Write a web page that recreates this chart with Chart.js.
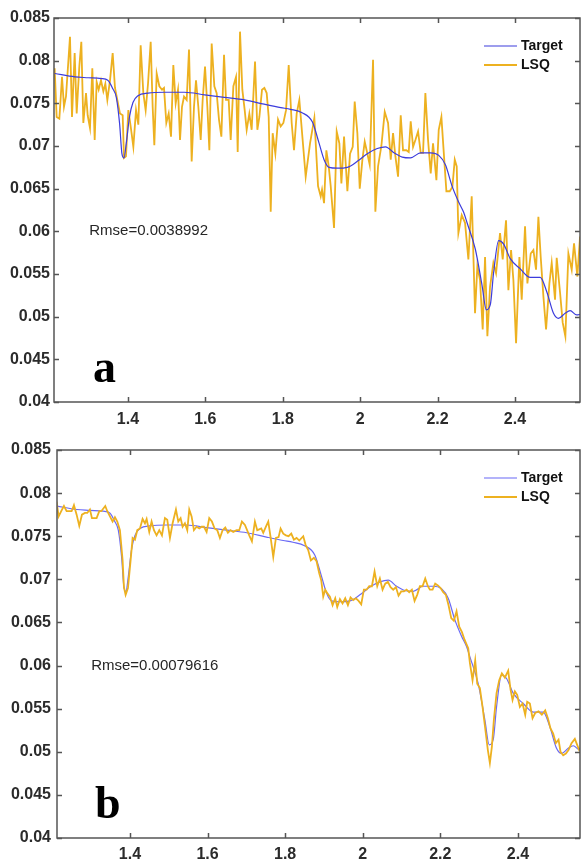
<!DOCTYPE html>
<html>
<head>
<meta charset="utf-8">
<script src="https://cdn.jsdelivr.net/npm/chart.js@4.4.1/dist/chart.umd.min.js"></script>
<style>
  body { margin: 0; background: #fff; width: 584px; height: 861px; overflow: hidden; position: relative; }
  canvas { position: absolute; left: 0; }
</style>
</head>
<body>
<canvas id="chartA" width="584" height="430" style="top:0"></canvas>
<canvas id="chartB" width="584" height="431" style="top:430px"></canvas>
<script>
// tick labels
var xTicks = [1.4, 1.6, 1.8, 2, 2.2, 2.4];
var yTicks = [0.04, 0.045, 0.05, 0.055, 0.06, 0.065, 0.07, 0.075, 0.08, 0.085];
var seriesNames = ['Target', 'LSQ'];
var rmseA = 'Rmse=0.0038992';
var rmseB = 'Rmse=0.00079616';

// target spectrum (same in both panels)
var targetX = [1.211, 1.263, 1.297, 1.331, 1.348, 1.361, 1.370, 1.3785, 1.3845, 1.3897, 1.3957, 1.404, 1.413, 1.426, 1.452, 1.495,
  1.546, 1.598, 1.649, 1.701, 1.752, 1.795, 1.82, 1.85, 1.8767, 1.894, 1.9068, 1.9197, 1.9412, 1.9669, 1.9927, 2.0185, 2.0442,
  2.0657, 2.0872, 2.1087, 2.1301, 2.1559, 2.1817, 2.2031, 2.2203, 2.2375, 2.2547, 2.2676, 2.2762, 2.2976, 2.3148, 2.326, 2.3363,
  2.3449, 2.3578, 2.3707, 2.3878, 2.4136, 2.4394, 2.4652, 2.4823, 2.4995, 2.5124, 2.5296, 2.5425, 2.5596, 2.570];
var targetY = [0.0785, 0.0781, 0.0780, 0.0779, 0.0777, 0.0767, 0.0757, 0.0726, 0.0691, 0.0686, 0.0703, 0.0734, 0.0751, 0.0759, 0.0762, 0.0763,
  0.0763, 0.0760, 0.0757, 0.0754, 0.0749, 0.0745, 0.0743, 0.0739, 0.0728, 0.0703, 0.0684, 0.0675, 0.0674, 0.0675, 0.0682, 0.0691, 0.0697,
  0.0699, 0.0692, 0.0687, 0.0686, 0.0692, 0.0692, 0.0689, 0.0678, 0.0653, 0.0634, 0.0622, 0.0610, 0.0579, 0.0537, 0.0508, 0.0514,
  0.0552, 0.0589, 0.0585, 0.0568, 0.0556, 0.0546, 0.0546, 0.0529, 0.0504, 0.0498, 0.0504, 0.0507, 0.0502, 0.0503];

// panel a: LSQ estimate
var lsqAX = [1.2107, 1.2159, 1.2228, 1.2297, 1.2348, 1.2400, 1.2503, 1.2555, 1.2624, 1.2676, 1.2744, 1.2796, 1.2848, 1.2917, 1.2960,
  1.3020, 1.3080, 1.3141, 1.3192, 1.3244, 1.3304, 1.3365, 1.3416, 1.3468, 1.3537, 1.3606, 1.3666, 1.3726, 1.3795, 1.3864, 1.3899,
  1.3950, 1.4011, 1.4071, 1.4140, 1.4209, 1.4269, 1.4329, 1.4398, 1.4458, 1.4519, 1.4588, 1.4639, 1.4682, 1.4743, 1.4812, 1.4881,
  1.4932, 1.4992, 1.5053, 1.5113, 1.5173, 1.5234, 1.5294, 1.5346, 1.5397, 1.5449, 1.5518, 1.5578, 1.5647, 1.5707, 1.5759, 1.5819,
  1.5880, 1.5931, 1.5992, 1.6052, 1.6104, 1.6164, 1.6233, 1.6293, 1.6353, 1.6414, 1.6483, 1.6534, 1.6603, 1.6655, 1.6724, 1.6793,
  1.6836, 1.6896, 1.6956, 1.7017, 1.7068, 1.7137, 1.7197, 1.7284, 1.7344, 1.7396, 1.7464, 1.7525, 1.7585, 1.7637, 1.7689, 1.7740,
  1.7809, 1.7878, 1.7947, 1.8016, 1.8085, 1.8154, 1.8231, 1.8291, 1.8360, 1.8429, 1.8593, 1.8705, 1.8817, 1.8912, 1.8981, 1.9015,
  1.9067, 1.9127, 1.9188, 1.9239, 1.9325, 1.9394, 1.9463, 1.9515, 1.9584, 1.9670, 1.9739, 1.9808, 1.9859, 1.9928, 1.9989, 2.0058,
  2.0118, 2.0187, 2.0247, 2.0333, 2.0393, 2.0462, 2.0548, 2.0635, 2.0721, 2.0790, 2.0850, 2.0910, 2.0979, 2.1048, 2.1108, 2.1194,
  2.1255, 2.1306, 2.1367, 2.1427, 2.1496, 2.1565, 2.1625, 2.1685, 2.1754, 2.1823, 2.1883, 2.1970, 2.2030, 2.2099, 2.2168, 2.2228,
  2.2314, 2.2383, 2.2444, 2.2495, 2.2538, 2.2624, 2.2710, 2.2796, 2.2882, 2.2968, 2.3028, 2.3097, 2.3166, 2.3227, 2.3287, 2.3356,
  2.3442, 2.3511, 2.3614, 2.3683, 2.3769, 2.3830, 2.3899, 2.3959, 2.4028, 2.4114, 2.4174, 2.4260, 2.4321, 2.4407, 2.4476, 2.4544,
  2.4605, 2.4665, 2.4734, 2.4803, 2.4889, 2.4949, 2.5035, 2.5078, 2.5165, 2.5233, 2.5302, 2.5380, 2.5466, 2.5526, 2.5612, 2.5681];
var lsqAY = [0.0791, 0.0734, 0.0732, 0.0781, 0.0746, 0.0758, 0.0828, 0.0734, 0.0809, 0.0738, 0.0793, 0.0822, 0.0727, 0.0762, 0.0736,
  0.0721, 0.0791, 0.0707, 0.0775, 0.0766, 0.0777, 0.0764, 0.0773, 0.0754, 0.0777, 0.0809, 0.0768, 0.0754, 0.0738, 0.0736, 0.0686,
  0.0688, 0.0742, 0.0723, 0.0699, 0.0742, 0.0725, 0.0818, 0.0762, 0.0742, 0.0773, 0.0822, 0.0746, 0.0701, 0.0785, 0.0770, 0.0766,
  0.0768, 0.0727, 0.0738, 0.0711, 0.0795, 0.0750, 0.0766, 0.0707, 0.0746, 0.0758, 0.0754, 0.0813, 0.0682, 0.0746, 0.0777, 0.0746,
  0.0707, 0.0754, 0.0793, 0.0746, 0.0695, 0.0820, 0.0770, 0.0762, 0.0731, 0.0711, 0.0807, 0.0754, 0.0754, 0.0707, 0.0770, 0.0781,
  0.0693, 0.0834, 0.0766, 0.0742, 0.0719, 0.0738, 0.0719, 0.0799, 0.0719, 0.0734, 0.0766, 0.0768, 0.0762, 0.0734, 0.0623, 0.0715,
  0.0691, 0.0731, 0.0723, 0.0727, 0.0742, 0.0795, 0.0727, 0.0695, 0.0738, 0.0754, 0.0664, 0.0703, 0.0733, 0.0653, 0.0641, 0.0649,
  0.0633, 0.0695, 0.0676, 0.0653, 0.0604, 0.0717, 0.0703, 0.0656, 0.0711, 0.0647, 0.0691, 0.0699, 0.0752, 0.0715, 0.0650, 0.0684,
  0.0705, 0.0691, 0.0678, 0.0801, 0.0623, 0.0676, 0.0700, 0.0740, 0.0727, 0.0684, 0.0715, 0.0688, 0.0664, 0.0736, 0.0695, 0.0695,
  0.0693, 0.0729, 0.0699, 0.0707, 0.0717, 0.0692, 0.0692, 0.0762, 0.0707, 0.0668, 0.0703, 0.0660, 0.0719, 0.0734, 0.0687, 0.0647,
  0.0647, 0.0652, 0.0684, 0.0676, 0.0598, 0.0619, 0.0610, 0.0567, 0.0641, 0.0504, 0.0559, 0.0543, 0.0485, 0.0570, 0.0477, 0.0535,
  0.0563, 0.0551, 0.0598, 0.0567, 0.0613, 0.0531, 0.0578, 0.0543, 0.0469, 0.0570, 0.0520, 0.0606, 0.0539, 0.0574, 0.0578, 0.0555,
  0.0617, 0.0570, 0.0524, 0.0485, 0.0539, 0.0563, 0.0520, 0.0569, 0.0528, 0.0493, 0.0477, 0.0574, 0.0555, 0.0586, 0.0547, 0.0594];

// panel b: LSQ estimate
var lsqBX = [1.2110, 1.2162, 1.2239, 1.2299, 1.2368, 1.2497, 1.2557, 1.2626, 1.2694, 1.2763, 1.2840, 1.2900, 1.2969, 1.3021, 1.3141,
  1.3210, 1.3261, 1.3364, 1.3416, 1.3485, 1.3553, 1.3613, 1.3674, 1.3742, 1.3811, 1.3845, 1.3888, 1.3949, 1.4017, 1.4069, 1.4129,
  1.4189, 1.4258, 1.4326, 1.4387, 1.4430, 1.4498, 1.4558, 1.4619, 1.4687, 1.4756, 1.4825, 1.4902, 1.4962, 1.5031, 1.5100, 1.5186,
  1.5246, 1.5306, 1.5357, 1.5417, 1.5478, 1.5529, 1.5589, 1.5649, 1.5718, 1.5787, 1.5847, 1.5907, 1.5976, 1.6044, 1.6113, 1.6182,
  1.6251, 1.6319, 1.6388, 1.6457, 1.6525, 1.6594, 1.6663, 1.6749, 1.6818, 1.6886, 1.6964, 1.7075, 1.7144, 1.7221, 1.7281, 1.7333,
  1.7384, 1.7436, 1.7505, 1.7565, 1.7625, 1.7694, 1.7763, 1.7831, 1.7883, 1.7952, 1.8020, 1.8089, 1.8158, 1.8226, 1.8295, 1.8364,
  1.8467, 1.8527, 1.8595, 1.8664, 1.8741, 1.8810, 1.8879, 1.8930, 1.8982, 1.9034, 1.9085, 1.9154, 1.9223, 1.9291, 1.9343, 1.9412,
  1.9480, 1.9549, 1.9618, 1.9686, 1.9755, 1.9824, 1.9893, 1.9961, 2.0030, 2.0099, 2.0167, 2.0236, 2.0305, 2.0374, 2.0442, 2.0511,
  2.0580, 2.0648, 2.0717, 2.0786, 2.0855, 2.0923, 2.0992, 2.1061, 2.1130, 2.1198, 2.1267, 2.1336, 2.1404, 2.1473, 2.1542, 2.1611,
  2.1679, 2.1731, 2.1800, 2.1868, 2.1937, 2.2006, 2.2074, 2.2143, 2.2212, 2.2281, 2.2349, 2.2418, 2.2487, 2.2555, 2.2624, 2.2719,
  2.2762, 2.2830, 2.2899, 2.2951, 2.3019, 2.3088, 2.3157, 2.3225, 2.3277, 2.3329, 2.3380, 2.3449, 2.3518, 2.3586, 2.3664, 2.3749,
  2.3810, 2.3861, 2.3921, 2.3981, 2.4050, 2.4119, 2.4188, 2.4239, 2.4308, 2.4377, 2.4445, 2.4531, 2.4617, 2.4703, 2.4772, 2.4840,
  2.4909, 2.4978, 2.5047, 2.5098, 2.5167, 2.5236, 2.5304, 2.5382, 2.5467, 2.5527, 2.5579, 2.5639, 2.5699];
var lsqBY = [0.0790, 0.0773, 0.0780, 0.0785, 0.0779, 0.0779, 0.0786, 0.0775, 0.0762, 0.0775, 0.0777, 0.0777, 0.0781, 0.0771, 0.0771,
  0.0779, 0.0779, 0.0785, 0.0779, 0.0773, 0.0767, 0.0772, 0.0767, 0.0757, 0.0722, 0.0691, 0.0682, 0.0690, 0.0722, 0.0748, 0.0746,
  0.0757, 0.0759, 0.0770, 0.0765, 0.0770, 0.0755, 0.0767, 0.0757, 0.0751, 0.0757, 0.0751, 0.0771, 0.0769, 0.0748, 0.0765, 0.0781,
  0.0767, 0.0771, 0.0761, 0.0765, 0.0757, 0.0781, 0.0773, 0.0757, 0.0761, 0.0759, 0.0761, 0.0761, 0.0755, 0.0771, 0.0767, 0.0759,
  0.0757, 0.0748, 0.0757, 0.0760, 0.0754, 0.0757, 0.0755, 0.0757, 0.0757, 0.0767, 0.0763, 0.0751, 0.0744, 0.0767, 0.0757, 0.0758,
  0.0759, 0.0754, 0.0761, 0.0767, 0.0749, 0.0726, 0.0748, 0.0749, 0.0759, 0.0753, 0.0751, 0.0750, 0.0753, 0.0746, 0.0748, 0.0745,
  0.0750, 0.0740, 0.0734, 0.0722, 0.0725, 0.0721, 0.0707, 0.0699, 0.0680, 0.0688, 0.0684, 0.0680, 0.0670, 0.0678, 0.0668, 0.0677,
  0.0672, 0.0678, 0.0670, 0.0679, 0.0676, 0.0678, 0.0675, 0.0671, 0.0688, 0.0688, 0.0692, 0.0692, 0.0709, 0.0692, 0.0701, 0.0688,
  0.0695, 0.0697, 0.0691, 0.0688, 0.0691, 0.0681, 0.0686, 0.0686, 0.0688, 0.0685, 0.0688, 0.0675, 0.0682, 0.0692, 0.0692, 0.0701,
  0.0692, 0.0688, 0.0688, 0.0695, 0.0693, 0.0690, 0.0685, 0.0682, 0.0670, 0.0655, 0.0652, 0.0663, 0.0645, 0.0639, 0.0630, 0.0620,
  0.0603, 0.0583, 0.0606, 0.0579, 0.0574, 0.0552, 0.0527, 0.0502, 0.0487, 0.0506, 0.0537, 0.0568, 0.0583, 0.0591, 0.0586, 0.0594,
  0.0572, 0.0560, 0.0570, 0.0566, 0.0552, 0.0556, 0.0543, 0.0558, 0.0556, 0.0539, 0.0545, 0.0547, 0.0543, 0.0548, 0.0539, 0.0527,
  0.0521, 0.0510, 0.0514, 0.0500, 0.0496, 0.0498, 0.0502, 0.0510, 0.0515, 0.0508, 0.0502, 0.0506, 0.0508];

function toPoints(xs, ys) {
    return xs.map(function (x, i) { return { x: x, y: ys[i] }; });
}

// draws the box, inward ticks, legend and the text labels
var framePlugin = {
    id: 'frame',
    afterDatasetsDraw: function (chart, args, opts) {
        var ctx = chart.ctx;
        var area = chart.chartArea;
        var xs = chart.scales.x, ys = chart.scales.y;
        ctx.save();
        ctx.strokeStyle = '#555';
        ctx.lineWidth = 1.5;
        ctx.strokeRect(area.left, area.top, area.right - area.left, area.bottom - area.top);
        ctx.beginPath();
        xTicks.forEach(function (v) {
            var px = Math.round(xs.getPixelForValue(v)) + 0.5;
            ctx.moveTo(px, area.bottom); ctx.lineTo(px, area.bottom - 5);
            ctx.moveTo(px, area.top); ctx.lineTo(px, area.top + 5);
        });
        yTicks.forEach(function (v) {
            var py = Math.round(ys.getPixelForValue(v)) + 0.5;
            ctx.moveTo(area.left, py); ctx.lineTo(area.left + 5, py);
            ctx.moveTo(area.right, py); ctx.lineTo(area.right - 5, py);
        });
        ctx.stroke();

        // rmse text
        ctx.fillStyle = '#262626';
        ctx.font = '15px "Liberation Sans", Arial, sans-serif';
        ctx.textBaseline = 'middle';
        ctx.textAlign = 'left';
        ctx.fillText(opts.rmse, xs.getPixelForValue(1.3), ys.getPixelForValue(0.06));

        // panel letter
        ctx.fillStyle = '#000';
        ctx.font = 'bold 46px "Liberation Serif", "Times New Roman", serif';
        ctx.textBaseline = 'alphabetic';
        ctx.fillText(opts.letter, xs.getPixelForValue(1.31), ys.getPixelForValue(0.0423));

        // legend
        ctx.font = 'bold 14px "Liberation Sans", Arial, sans-serif';
        ctx.textBaseline = 'middle';
        chart.data.datasets.forEach(function (ds, i) {
            var y = area.top + 28 + i * 19;
            ctx.strokeStyle = ds.borderColor;
            ctx.lineWidth = ds.borderWidth;
            ctx.beginPath();
            ctx.moveTo(area.right - 96, y);
            ctx.lineTo(area.right - 63, y);
            ctx.stroke();
            ctx.fillStyle = '#111';
            ctx.fillText(ds.label, area.right - 59, y);
        });
        ctx.restore();
    }
};

function makePanel(id, cfg) {
    var tickFont = { family: '"Liberation Sans", Arial, sans-serif', size: 16, weight: 'bold' };
    return new Chart(document.getElementById(id), {
        type: 'scatter',
        data: {
            datasets: [{
                label: seriesNames[0],
                data: toPoints(targetX, targetY),
                showLine: true,
                borderColor: cfg.targetColor,
                borderWidth: 1.2,
                pointRadius: 0,
                cubicInterpolationMode: 'monotone',
                order: cfg.targetOrder
            }, {
                label: seriesNames[1],
                data: toPoints(cfg.lsqX, cfg.lsqY),
                showLine: true,
                borderColor: '#EDB120',
                borderWidth: 1.8,
                pointRadius: 0,
                tension: 0,
                order: 3 - cfg.targetOrder
            }]
        },
        options: {
            responsive: false,
            animation: false,
            devicePixelRatio: 1,
            layout: { padding: { left: 0, top: cfg.top, right: 4, bottom: 0 } },
            plugins: {
                legend: { display: false },
                tooltip: { enabled: false },
                frame: { rmse: cfg.rmse, letter: cfg.letter }
            },
            scales: {
                x: {
                    type: 'linear',
                    min: cfg.xMin,
                    max: cfg.xMax,
                    grid: { display: false, drawTicks: false },
                    border: { display: false },
                    afterBuildTicks: function (s) { s.ticks = xTicks.map(function (v) { return { value: v }; }); },
                    afterFit: function (s) { s.height = cfg.xAxisHeight; },
                    ticks: {
                        font: tickFont, color: '#2b2b2b', padding: cfg.xPad,
                        maxRotation: 0, autoSkip: false,
                        callback: function (v) { return String(v); }
                    }
                },
                y: {
                    min: 0.04,
                    max: 0.085,
                    grid: { display: false, drawTicks: false },
                    border: { display: false },
                    afterBuildTicks: function (s) { s.ticks = yTicks.map(function (v) { return { value: v }; }); },
                    afterFit: function (s) { s.width = cfg.left; },
                    ticks: {
                        font: tickFont, color: '#2b2b2b', padding: cfg.yPad,
                        callback: function (v) { return String(v); }
                    }
                }
            }
        },
        plugins: [framePlugin]
    });
}

makePanel('chartA', {
    lsqX: lsqAX, lsqY: lsqAY, targetColor: 'rgb(60,60,220)', targetOrder: 1,
    xMin: 1.209, xMax: 2.568, top: 18, left: 54, xAxisHeight: 28, xPad: 8, yPad: 4,
    rmse: rmseA, letter: 'a'
});
makePanel('chartB', {
    lsqX: lsqBX, lsqY: lsqBY, targetColor: 'rgb(105,105,245)', targetOrder: 2,
    xMin: 1.212, xMax: 2.56, top: 20, left: 57, xAxisHeight: 23, xPad: 7, yPad: 6,
    rmse: rmseB, letter: 'b'
});
</script>
</body>
</html>
